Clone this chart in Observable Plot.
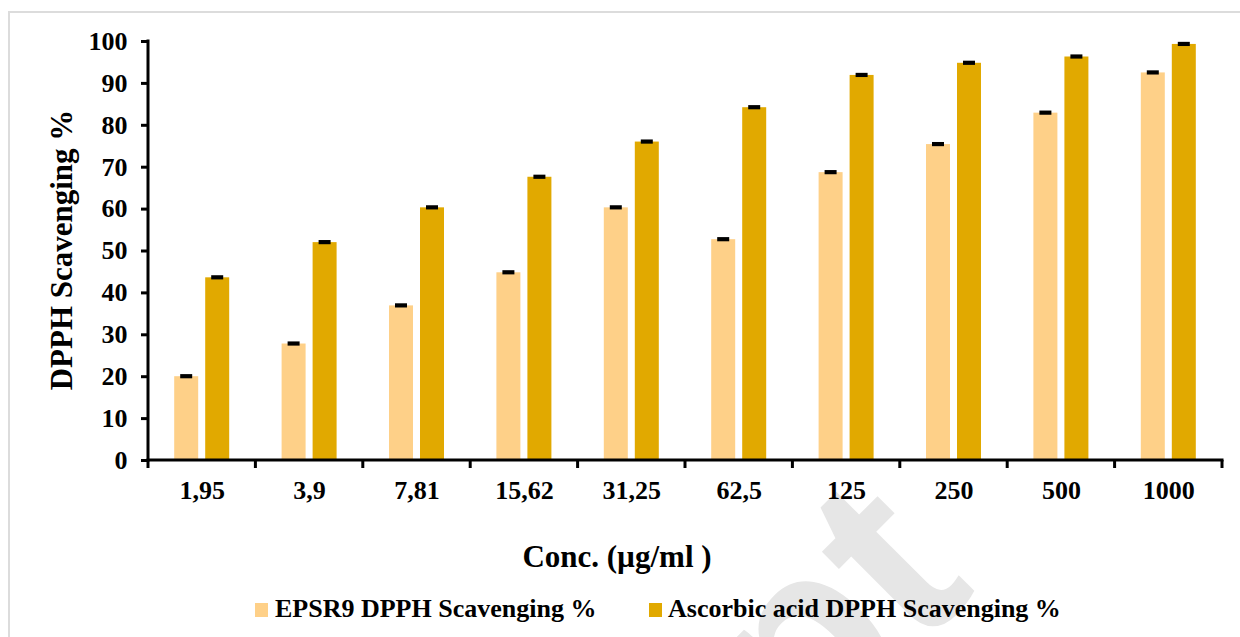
<!DOCTYPE html>
<html>
<head>
<meta charset="utf-8">
<script src="https://cdn.jsdelivr.net/npm/d3@7"></script>
<script src="https://cdn.jsdelivr.net/npm/@observablehq/plot@0.6"></script>
<style>
  html, body { margin: 0; padding: 0; background: #fff; overflow: hidden; }
  #wrap { position: relative; width: 1240px; height: 637px; font-family: "Liberation Serif", "Times New Roman", serif; font-weight: bold; color: #000; }
  #border { position: absolute; left: 8px; top: 11px; width: 1300px; height: 700px; border-left: 2px solid #dcdcdc; border-top: 2px solid #dcdcdc; }
  #wm { position: absolute; left: 0; top: 0; }
  #chart { position: absolute; left: 0; top: 0; }
  .lbl { position: absolute; line-height: 1; white-space: nowrap; }
  .sw { position: absolute; width: 13px; height: 14px; }
</style>
</head>
<body>
<div id="wrap">
  <div id="border"></div>
  <svg id="wm" width="1240" height="637"><text x="978" y="590" transform="rotate(-45 978 590)" text-anchor="end" font-family="Liberation Sans, Arial, sans-serif" font-weight="bold" font-size="260" fill="#e6e6e6">Manuscript</text></svg>
  <div id="chart"></div>
  <div class="lbl" id="ylab" style="font-size:31px; left:61px; top:250px; transform: translate(-50%,-50%) rotate(-90deg);"></div>
  <div class="lbl" id="xlab" style="font-size:31px; left:617px; top:540.5px; transform: translateX(-50%);"></div>
  <div id="legend"></div>
</div>
<script>
// ---- data ----
const categories = ["1,95", "3,9", "7,81", "15,62", "31,25", "62,5", "125", "250", "500", "1000"];
const seriesNames = ["EPSR9 DPPH Scavenging %", "Ascorbic acid DPPH Scavenging %"];
const epsr9 = [20.0, 27.8, 36.9, 44.8, 60.3, 52.7, 68.7, 75.4, 82.9, 92.5];
const ascorbic = [43.6, 52.0, 60.3, 67.6, 76.0, 84.2, 91.9, 94.8, 96.3, 99.3];
const epsr9Err = [0.5, 0.5, 0.5, 0.5, 0.5, 0.5, 0.5, 0.5, 0.5, 0.5];
const ascorbicErr = [0.5, 0.5, 0.5, 0.5, 0.5, 0.5, 0.5, 0.5, 0.5, 0.5];
const seriesColors = ["#FED088", "#E1A900"];
const yTicks = [0, 10, 20, 30, 40, 50, 60, 70, 80, 90, 100];
const yLabel = "DPPH Scavenging %";
const xLabel = "Conc. (µg/ml )";

const rows = [];
categories.forEach((c, i) => {
  rows.push({conc: c, series: seriesNames[0], value: epsr9[i], err: epsr9Err[i]});
  rows.push({conc: c, series: seriesNames[1], value: ascorbic[i], err: ascorbicErr[i]});
});

const chart = Plot.plot({
  width: 1240,
  height: 520,
  marginLeft: 148,
  marginRight: 18,
  marginTop: 41,
  marginBottom: 60,
  style: {fontFamily: "'Liberation Serif', 'Times New Roman', serif", fontWeight: "bold", fontSize: "26px", color: "#000", background: "transparent", overflow: "visible"},
  fx: {domain: categories, padding: 0, round: false, label: null},
  x: {domain: seriesNames, paddingInner: 0.226, paddingOuter: 0.845, round: false, axis: null},
  y: {domain: [0, 100]},
  color: {domain: seriesNames, range: seriesColors},
  marks: [
    Plot.barY(rows, {fx: "conc", x: "series", y: "value", fill: "series"}),
    Plot.barY(rows, {fx: "conc", x: "series", y1: d => d.value - d.err, y2: d => d.value + d.err, fill: "#000", insetLeft: 6, insetRight: 6}),
    Plot.axisY({ticks: yTicks, tickSize: 7, tickPadding: 14, strokeWidth: 3, label: null, fontSize: 26, fontWeight: "bold"}),
    Plot.axisFx({anchor: "bottom", tickSize: 0, tickPadding: 20, label: null, fontSize: 26, fontWeight: "bold"})
  ]
});
document.getElementById("chart").appendChild(chart);

// axis lines and category boundary ticks, placed with the plot's own scales
const fxs = chart.scale("fx"), ys = chart.scale("y");
const xStart = fxs.apply(categories[0]);
const xEnd = fxs.apply(categories[categories.length - 1]) + fxs.bandwidth;
const y0 = ys.apply(0), y100 = ys.apply(100);
const g = d3.select(chart).append("g").attr("stroke", "#000").attr("stroke-width", 3).attr("fill", "none");
g.append("line").attr("x1", xStart).attr("x2", xStart).attr("y1", y0 + 1.5).attr("y2", y100 - 1.5);
g.append("line").attr("x1", xStart - 1.5).attr("x2", xEnd + 1.5).attr("y1", y0).attr("y2", y0);
const bounds = categories.map(c => fxs.apply(c)).concat([xEnd]);
g.selectAll(".bt").data(bounds).join("line").attr("class", "bt")
  .attr("x1", d => d).attr("x2", d => d).attr("y1", y0).attr("y2", y0 + 8);

document.getElementById("ylab").textContent = yLabel;
document.getElementById("xlab").textContent = xLabel;

// legend
const legend = document.getElementById("legend");
const legendPos = [{sw: 255, tx: 275}, {sw: 649, tx: 668}];
seriesNames.forEach((s, i) => {
  const sw = document.createElement("div");
  sw.className = "sw";
  sw.style.left = legendPos[i].sw + "px";
  sw.style.top = "603px";
  sw.style.background = seriesColors[i];
  legend.appendChild(sw);
  const t = document.createElement("div");
  t.className = "lbl";
  t.style.fontSize = "26px";
  t.style.left = legendPos[i].tx + "px";
  t.style.top = "595.5px";
  t.textContent = s;
  legend.appendChild(t);
});
</script>
</body>
</html>
